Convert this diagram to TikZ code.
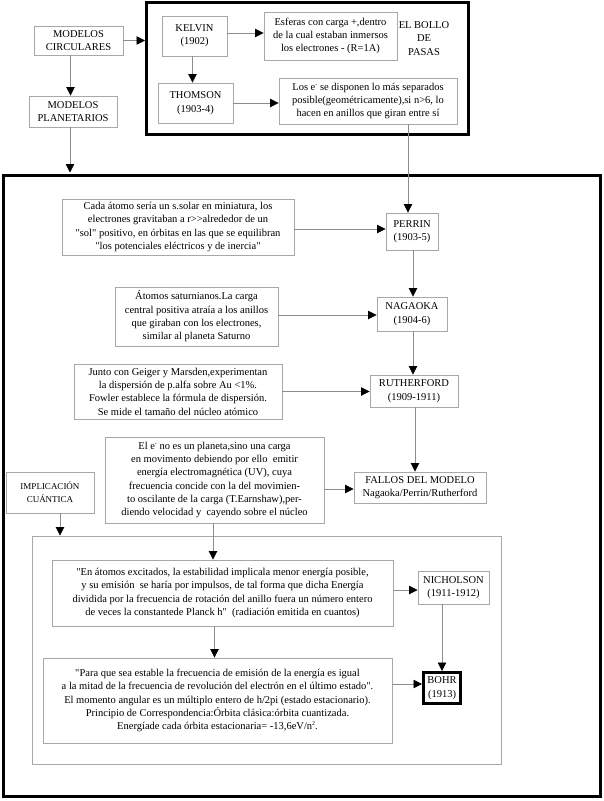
\documentclass[tikz,border=0pt]{standalone}
\usepackage{fontspec}
\setmainfont{Liberation Serif}[Ligatures=TeXOff]
\usetikzlibrary{arrows.meta}
\definecolor{boxgray}{HTML}{A8A8A8}
\definecolor{linegray}{HTML}{8C8C8C}
\newcommand{\tinysup}[1]{\raisebox{0.8ex}{\fontsize{6}{6}\selectfont #1}}
\begin{document}
\begin{tikzpicture}[x=1pt,y=-1pt,
  font=\fontsize{10.5}{13.3}\selectfont,
  box/.style={draw=boxgray,line width=0.9pt,inner sep=0pt,align=center,minimum width=#1},
  thick box/.style={draw=black,line width=3pt,inner sep=0pt,minimum width=#1},
  conn/.style={draw=linegray,line width=0.8pt,-{Triangle[length=8.5pt,width=8.5pt,color=black]}}]
\useasboundingbox (0,0) rectangle (603,801);
% frames
\node[thick box=322pt,minimum height=132pt] (topbig) at (307.5,68.5) {};
\node[thick box=597pt,minimum height=621pt] (bigbox) at (301.5,486) {};
\node[box=469pt,minimum height=228pt] (inner) at (266.5,650) {};
% top part
\node[box=89pt,minimum height=29pt] (circ) at (78.5,40.5) {MODELOS\\CIRCULARES};
\node[box=88pt,minimum height=31pt] (plan) at (73,111.5) {MODELOS\\PLANETARIOS};
\node[box=65pt,minimum height=40pt] (kelvin) at (194.5,36) {KELVIN\\(1902)};
\node[box=133pt,minimum height=48pt] (esferas) at (330.5,36) {Esferas con carga +,dentro\\de la cual estaban inmersos\\los electrones - (R=1A)};
\node[align=center,inner sep=0pt] (bollo) at (424,38.5) {EL BOLLO\\DE\\PASAS};
\node[box=75pt,minimum height=40pt] (thomson) at (195.5,103) {THOMSON\\(1903-4)};
\node[box=178pt,minimum height=46pt] (lose) at (368,101) {Los e\tinysup{-} se disponen lo más separados\\posible(geométricamente),si n>6, lo\\hacen en anillos que giran entre sí};
% big box content
\node[box=232pt,minimum height=56pt] (cada) at (178,227) {Cada átomo sería un s.solar en miniatura, los\\electrones gravitaban a r>>alrededor de un\\"sol" positivo, en órbitas en las que se equilibran\\"los potenciales eléctricos y de inercia"};
\node[box=52pt,minimum height=37pt] (perrin) at (412,231.5) {PERRIN\\(1903-5)};
\node[box=163pt,minimum height=59pt] (saturn) at (196.5,316.5) {Átomos saturnianos.La carga\\central positiva atraía a los anillos\\que giraban con los electrones,\\similar al planeta Saturno};
\node[box=70pt,minimum height=34pt] (nagaoka) at (412,314) {NAGAOKA\\(1904-6)};
\node[box=208pt,minimum height=55pt] (junto) at (178,391.5) {Junto con Geiger y Marsden,experimentan\\la dispersión de p.alfa sobre Au <1\%.\\Fowler establece la fórmula de dispersión.\\Se mide el tamaño del núcleo atómico};
\node[box=88pt,minimum height=32pt] (ruth) at (414,391) {RUTHERFORD\\(1909-1911)};
\node[box=219pt,minimum height=86pt] (ele) at (214.5,480) {El e\tinysup{-} no es un planeta,sino una carga\\en movimento debiendo por ello\ \ emitir\\energía electromagnética (UV), cuya\\frecuencia concide con la del movimien-\\to oscilante de la carga (T.Earnshaw),per-\\diendo velocidad y\ \ cayendo sobre el núcleo};
\node[box=132pt,minimum height=31pt] (fallos) at (420,487.5) {FALLOS DEL MODELO\\Nagaoka/Perrin/Rutherford};
\node[box=88pt,minimum height=41pt,font=\fontsize{9}{13}\selectfont] (impl) at (50,492.5) {IMPLICACIÓN\\CUÁNTICA};
\node[box=341pt,minimum height=66pt] (enat) at (222.5,593) {"En átomos excitados, la estabilidad implicala menor energía posible,\\y su emisión\ \ se haría por impulsos, de tal forma que dicha Energía\\dividida por la frecuencia de rotación del anillo fuera un número entero\\de veces la constantede Planck h"\ \ (radiación emitida en cuantos)};
\node[box=71pt,minimum height=33pt] (nich) at (453.5,587.5) {NICHOLSON\\(1911-1912)};
\node[box=349pt,minimum height=85pt] (para) at (217.5,700.5) {"Para que sea estable la frecuencia de emisión de la energía es igual\\a la mitad de la frecuencia de revolución del electrón en el último estado".\\El momento angular es un múltiplo entero de h/2pi (estado estacionario).\\Principio de Correspondencia:Órbita clásica:órbita cuantizada.\\Energíade cada órbita estacionaria= -13,6eV/n\tinysup{2}.};
\node[thick box=37pt,minimum height=31pt,align=center] (bohr) at (442,688) {BOHR\\(1913)};
% connectors
\draw[conn] (circ.east) -- (circ.east -| topbig.west);
\draw[conn] ([yshift=3pt]kelvin.east) -- ([yshift=3pt]kelvin.east -| esferas.west);
\draw[conn] ([xshift=-2pt]kelvin.south) -- ([xshift=-2pt]kelvin.south |- thomson.north);
\draw[conn] (thomson.east) -- (thomson.east -| lose.west);
\draw[conn] ([xshift=-8pt]circ.south) -- ([xshift=-8pt]circ.south |- plan.north);
\draw[conn] ([xshift=-3pt]plan.south) -- ([xshift=-3pt,yshift=1.5pt]plan.south |- bigbox.north);
\draw[conn] ([xshift=40pt]lose.south) -- ([xshift=40pt]lose.south |- perrin.north);
\draw[conn] ([yshift=-2pt]cada.east) -- ([yshift=-2pt]cada.east -| perrin.west);
\draw[conn] ([xshift=1pt]perrin.south) -- ([xshift=1pt]perrin.south |- nagaoka.north);
\draw[conn] ([yshift=1.5pt]saturn.east) -- ([yshift=1.5pt]saturn.east -| nagaoka.west);
\draw[conn] ([xshift=1pt]nagaoka.south) -- ([xshift=1pt]nagaoka.south |- ruth.north);
\draw[conn] (junto.east) -- (junto.east -| ruth.west);
\draw[conn] ([xshift=1pt]ruth.south) -- ([xshift=1pt]ruth.south |- fallos.north);
\draw[conn] ([yshift=-9pt]ele.east) -- ([yshift=-9pt]ele.east -| fallos.west);
\draw[conn] ([xshift=10pt]impl.south) -- ([xshift=10pt]impl.south |- inner.north);
\draw[conn] ([xshift=-1.5pt]ele.south) -- ([xshift=-1.5pt]ele.south |- enat.north);
\draw[conn] ([yshift=3pt]enat.east) -- ([yshift=3pt]enat.east -| nich.west);
\draw[conn] ([xshift=-8pt]enat.south) -- ([xshift=-8pt]enat.south |- para.north);
\draw[conn] (bohr.north |- nich.south) -- (bohr.north);
\draw[conn] ([yshift=4pt]bohr.west -| para.east) -- ([yshift=4pt]bohr.west);
\end{tikzpicture}
\end{document}
